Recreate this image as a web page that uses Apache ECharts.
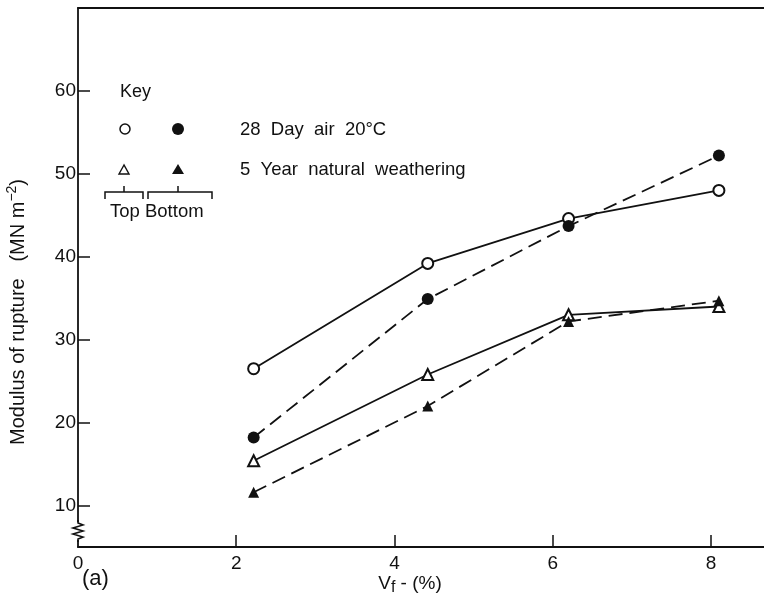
<!DOCTYPE html>
<html>
<head>
<meta charset="utf-8">
<script src="https://cdn.jsdelivr.net/npm/echarts@6/dist/echarts.min.js"></script>
<style>
  html, body { margin: 0; padding: 0; background: #fff; }
  #chart { width: 764px; height: 598px; }
</style>
</head>
<body>
<div id="chart"></div>
<script>
// fibre volume fraction (%)
const vf = [2.22, 4.42, 6.2, 8.1]
// modulus of rupture (MN m^-2)
const airTop = [26.5, 39.2, 44.6, 48.0]
const airBottom = [18.2, 34.9, 43.7, 52.2]
const weatherTop = [15.4, 25.8, 33.0, 34.0]
const weatherBottom = [11.6, 22.0, 32.2, 34.7]
const yTicks = [10, 20, 30, 40, 50, 60]
const xTicks = [0, 2, 4, 6, 8]

const font = '"Liberation Sans", Arial, sans-serif'
const ink = '#111'

const pairs = (ys) => vf.map((x, i) => [x, ys[i]])

const makeSeries = (name, ys, symbol, size, dashed) => ({
  name: name,
  type: 'line',
  data: pairs(ys),
  symbol: symbol,
  symbolSize: size,
  lineStyle: { color: ink, width: 1.8, type: dashed ? [14, 7] : 'solid' },
  itemStyle: { color: ink, borderWidth: 1.5 },
  z: 3
})

const chart = echarts.init(document.getElementById('chart'))

chart.setOption({
  animation: false,
  grid: { left: 78, right: 0, top: 8, bottom: 51 },
  xAxis: [
    {
      type: 'value',
      min: 0,
      max: 8.67,
      axisLine: { lineStyle: { color: ink, width: 1.8 } },
      axisTick: { inside: true, length: 12, customValues: [2, 4, 6, 8], lineStyle: { color: ink, width: 1.5 } },
      axisLabel: { customValues: xTicks, color: ink, fontSize: 19, fontFamily: font, margin: 7 },
      splitLine: { show: false }
    },
    {
      type: 'value',
      position: 'top',
      min: 0,
      max: 8.67,
      axisLine: { show: true, lineStyle: { color: ink, width: 1.8 } },
      axisTick: { show: false },
      axisLabel: { show: false },
      splitLine: { show: false }
    }
  ],
  yAxis: {
    type: 'value',
    min: 5,
    max: 70,
    axisLine: { show: true, lineStyle: { color: ink, width: 1.8 } },
    axisTick: { inside: true, length: 12, customValues: yTicks, lineStyle: { color: ink, width: 1.5 } },
    axisLabel: { customValues: yTicks, color: ink, fontSize: 19, fontFamily: font, margin: 2 },
    splitLine: { show: false }
  },
  series: [
    makeSeries('28 Day air top', airTop, 'emptyCircle', 11, false),
    makeSeries('28 Day air bottom', airBottom, 'circle', 12, true),
    makeSeries('5 Year top', weatherTop, 'emptyTriangle', 11, false),
    makeSeries('5 Year bottom', weatherBottom, 'triangle', 11, true)
  ],
  graphic: [
    // axis break on y axis
    { type: 'rect', shape: { x: 73, y: 522, width: 10, height: 18 }, style: { fill: '#fff' }, z: 10 },
    {
      type: 'polyline',
      shape: { points: [[78, 520], [78, 523], [83, 525], [73, 528], [83, 531], [73, 534], [83, 537], [78, 539], [78, 542]] },
      style: { stroke: ink, lineWidth: 1.6, fill: null },
      z: 11
    },
    // y axis title
    {
      type: 'text',
      x: 18, y: 312, rotation: Math.PI / 2,
      style: {
        text: 'Modulus of rupture   (MN m{sup|−2})',
        rich: { sup: { fontSize: 14, verticalAlign: 'top', padding: [0, 0, 12, 0], fill: ink } },
        fontSize: 20, fontFamily: font, fill: ink, align: 'center', verticalAlign: 'middle'
      }
    },
    // x axis title
    {
      type: 'text',
      x: 410, y: 584,
      style: {
        text: 'V{sub|f} - (%)',
        rich: { sub: { fontSize: 16, padding: [7, 0, 0, 0], fill: ink } },
        fontSize: 19, fontFamily: font, fill: ink, align: 'center', verticalAlign: 'middle'
      }
    },
    {
      type: 'text', x: 82, y: 579,
      style: { text: '(a)', fontSize: 22, fontFamily: font, fill: ink, verticalAlign: 'middle' }
    },
    // key
    { type: 'text', x: 120, y: 92, style: { text: 'Key', fontSize: 18, fontFamily: font, fill: ink, verticalAlign: 'middle' } },
    { type: 'circle', shape: { cx: 125, cy: 129, r: 5 }, style: { fill: '#fff', stroke: ink, lineWidth: 1.5 } },
    { type: 'circle', shape: { cx: 178, cy: 129, r: 6 }, style: { fill: ink } },
    { type: 'polygon', shape: { points: [[124, 165], [119, 174], [129, 174]] }, style: { fill: '#fff', stroke: ink, lineWidth: 1.4 } },
    { type: 'polygon', shape: { points: [[178, 164], [172, 174], [184, 174]] }, style: { fill: ink } },
    { type: 'text', x: 240, y: 130, style: { text: '28  Day  air  20°C', fontSize: 18.5, fontFamily: font, fill: ink, verticalAlign: 'middle' } },
    { type: 'text', x: 240, y: 170, style: { text: '5  Year  natural  weathering', fontSize: 18.5, fontFamily: font, fill: ink, verticalAlign: 'middle' } },
    {
      type: 'polyline',
      shape: { points: [[105, 199], [105, 192], [143, 192], [143, 199]] },
      style: { stroke: ink, lineWidth: 1.5, fill: null }
    },
    { type: 'line', shape: { x1: 124, y1: 192, x2: 124, y2: 186 }, style: { stroke: ink, lineWidth: 1.5 } },
    {
      type: 'polyline',
      shape: { points: [[148, 199], [148, 192], [212, 192], [212, 199]] },
      style: { stroke: ink, lineWidth: 1.5, fill: null }
    },
    { type: 'line', shape: { x1: 178, y1: 192, x2: 178, y2: 186 }, style: { stroke: ink, lineWidth: 1.5 } },
    { type: 'text', x: 110, y: 212, style: { text: 'Top Bottom', fontSize: 18.5, fontFamily: font, fill: ink, verticalAlign: 'middle' } }
  ]
})
</script>
</body>
</html>
